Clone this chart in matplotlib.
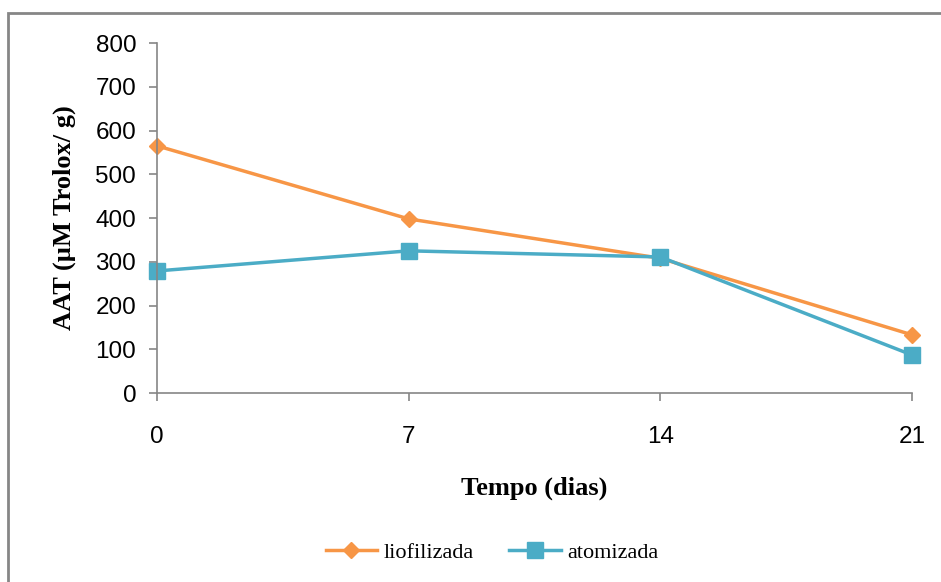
import numpy as np
import matplotlib.pyplot as plt
from matplotlib.patches import Rectangle

# dados
dias = [0, 7, 14, 21]
liofilizada = [565, 398, 308, 133]
atomizada = [279, 325, 311, 87]

fig = plt.figure(figsize=(9.41, 5.82), dpi=100)
ax = fig.add_axes([0.1668, 0.3247, 0.8024, 0.6014])

# moldura externa
fig.patches.append(Rectangle((8/941, -0.1), 1.2, 1 - 13/582 + 0.1, transform=fig.transFigure,
                             fill=False, edgecolor='#868686', linewidth=2))

ax.plot(dias, liofilizada, color='#F79646', lw=2.5, marker='D', ms=8.5, label='liofilizada')
ax.plot(dias, atomizada, color='#4BACC6', lw=2.5, marker='s', ms=11, label='atomizada')

ax.set_xlim(0, 21)
ax.set_ylim(0, 800)
ax.set_xticks(dias)
ax.set_yticks(np.arange(0, 801, 100))
ax.spines['top'].set_visible(False)
ax.spines['right'].set_visible(False)
for s in ['left', 'bottom']:
    ax.spines[s].set_color('#868686')
    ax.spines[s].set_linewidth(1.2)
    ax.spines[s].set_clip_on(False)
ax.tick_params(axis='both', colors='#868686', length=6, width=1.2, labelcolor='black')
ax.tick_params(axis='y', pad=9)
ax.tick_params(axis='x', pad=18)
for lb in ax.get_xticklabels() + ax.get_yticklabels():
    lb.set_fontfamily('Liberation Sans')
    lb.set_fontsize(17.5)
for ln in ax.get_lines():
    ln.set_clip_on(False)

ax.set_xlabel('Tempo (dias)', fontfamily='Liberation Serif', fontweight='bold', fontsize=19, labelpad=20)
ax.set_ylabel('AAT (µM Trolox/ g)', fontfamily='Liberation Serif', fontweight='bold', fontsize=19, labelpad=14)

fig.legend(loc='center', bbox_to_anchor=(0.523, 0.05), ncol=2, frameon=False,
           prop={'family': 'Liberation Serif', 'size': 16}, handlelength=2.3, columnspacing=1.6,
           handletextpad=0.3)

fig.savefig('out.png', dpi=100)
